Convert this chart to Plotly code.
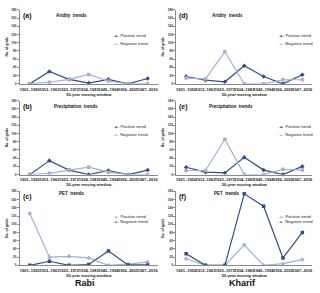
import plotly.graph_objects as go

windows = ["1901–1950", "1912–1961", "1923–1972", "1934–1983", "1945–1994", "1956–2005", "1967–2016"]

aridity_rabi_pos = [0, 30, 11, 2, 11, 0, 13]
aridity_rabi_neg = [0, 4, 11, 23, 7, 0, 0]
precip_rabi_pos = [0, 34, 11, 0, 10, 0, 11]
precip_rabi_neg = [0, 3, 11, 18, 6, 0, 0]
pet_rabi_pos = [126, 20, 22, 18, 0, 3, 8]
pet_rabi_neg = [0, 10, 0, 2, 35, 1, 1]

aridity_kharif_pos = [18, 9, 5, 44, 18, 0, 22]
aridity_kharif_neg = [14, 12, 78, 0, 0, 10, 10]
precip_kharif_pos = [18, 6, 4, 42, 11, 0, 20]
precip_kharif_neg = [10, 10, 86, 0, 0, 13, 11]
pet_kharif_pos = [16, 0, 0, 50, 0, 4, 14]
pet_kharif_neg = [28, 0, 0, 174, 144, 18, 80]

y_ticks = [0, 20, 40, 60, 80, 100, 120, 140, 160, 180]

DARK = "#2F4F86"
LIGHT = "#9DB3D8"
LAV = "#B7A8CC"
FONT = "Liberation Sans, Arial, sans-serif"

W, H = 320, 293

def px(x):
    return x / W

def py(y):
    return 1 - y / H

cols = [(20, 158), (177, 313)]
rows = [(8, 83), (100, 175), (192, 267)]

panels = [
    (0, 0, "(a)", "Aridity  trends", aridity_rabi_pos, aridity_rabi_neg, False),
    (1, 0, "(b)", "Precipitation  trends", precip_rabi_pos, precip_rabi_neg, False),
    (2, 0, "(c)", "PET  trends", pet_rabi_pos, pet_rabi_neg, True),
    (0, 1, "(d)", "Aridity  trends", aridity_kharif_pos, aridity_kharif_neg, False),
    (1, 1, "(e)", "Precipitation  trends", precip_kharif_pos, precip_kharif_neg, False),
    (2, 1, "(f)", "PET  trends", pet_kharif_pos, pet_kharif_neg, True),
]

fig = go.Figure()
annotations = []
layout = {}

for i, (r, c, lab, title, pos, neg, pet) in enumerate(panels):
    n = "" if i == 0 else str(i + 1)
    xa, ya = "x" + n, "y" + n
    x0, x1 = cols[c]
    y0, y1 = rows[r]
    if pet:
        pos_color, pos_mcolor = LIGHT, LIGHT
        neg_color, neg_mcolor = DARK, DARK
    else:
        pos_color, pos_mcolor = DARK, DARK
        neg_color, neg_mcolor = LIGHT, LAV
    fig.add_trace(go.Scatter(x=windows, y=pos, mode="lines+markers", xaxis=xa, yaxis=ya,
                             line=dict(color=pos_color, width=1.2),
                             marker=dict(symbol="diamond", size=3.5, color=pos_mcolor),
                             showlegend=False, name="Positive trend"))
    fig.add_trace(go.Scatter(x=windows, y=neg, mode="lines+markers", xaxis=xa, yaxis=ya,
                             line=dict(color=neg_color, width=1.2),
                             marker=dict(symbol="square", size=3.5, color=neg_mcolor),
                             showlegend=False, name="Negative trend"))
    layout["xaxis" + n] = dict(domain=[px(x0), px(x1)], anchor=ya, type="category",
                               range=[-0.5, 6.5], showline=True, linecolor="#8a8a8a", linewidth=1,
                               ticks="", showgrid=False, zeroline=False,
                               tickfont=dict(size=4, family=FONT, color="#222", weight="bold"),
                               tickangle=0, ticklabelstandoff=1,
                               title=dict(text="50-year moving window", standoff=1,
                                          font=dict(size=4, family=FONT, color="#222", weight="bold")))
    layout["yaxis" + n] = dict(domain=[py(y1), py(y0)], anchor=xa, range=[0, 180],
                               tickvals=y_ticks, showline=True, linecolor="#8a8a8a", linewidth=1,
                               ticks="outside", ticklen=2, tickcolor="#8a8a8a", showgrid=False,
                               zeroline=False,
                               tickfont=dict(size=3, family=FONT, color="#222", weight="bold"),
                               title=dict(text="No. of grids", standoff=3,
                                          font=dict(size=3.5, family=FONT, color="#222", weight="bold")))
    annotations.append(dict(text=lab, x=px(x0 + 1), y=py(y0 + 6), xref="paper", yref="paper",
                            xanchor="left", yanchor="middle", showarrow=False,
                            font=dict(size=7, family=FONT, color="#111", weight="bold")))
    tcx = x0 + (52 if c == 0 else 51) + (4 if "Precip" in title else 0)
    ty = y0 + 6 if not pet else y0 + 2
    annotations.append(dict(text=title, x=px(tcx), y=py(ty), xref="paper", yref="paper",
                            xanchor="center", yanchor="middle", showarrow=False,
                            font=dict(size=4.5, family=FONT, color="#111", weight="bold")))
    lx = x0 + 90 if c == 0 else x0 + 99
    ly1 = y0 + 26 if not pet else y0 + 25
    ly2 = ly1 + 8 if not pet else ly1 + 6
    annotations.append(dict(text=f'<span style="color:{pos_color};font-size:3px">─◆─</span> Positive trend',
                            x=px(lx), y=py(ly1), xref="paper", yref="paper",
                            xanchor="left", yanchor="middle", showarrow=False,
                            font=dict(size=4.2, family=FONT, color="#222")))
    annotations.append(dict(text=f'<span style="color:{neg_color};font-size:3px">─■─</span> Negative trend',
                            x=px(lx), y=py(ly2), xref="paper", yref="paper",
                            xanchor="left", yanchor="middle", showarrow=False,
                            font=dict(size=4.2, family=FONT, color="#222")))

annotations.append(dict(text="Rabi", x=px(85), y=py(285), xref="paper", yref="paper",
                        xanchor="center", yanchor="middle", showarrow=False,
                        font=dict(size=9, family=FONT, color="#111", weight="bold")))
annotations.append(dict(text="Kharif", x=px(243), y=py(285), xref="paper", yref="paper",
                        xanchor="center", yanchor="middle", showarrow=False,
                        font=dict(size=9, family=FONT, color="#111", weight="bold")))

fig.update_layout(width=W, height=H, autosize=False,
                  margin=dict(l=0, r=0, t=0, b=0),
                  paper_bgcolor="white", plot_bgcolor="white",
                  annotations=annotations, showlegend=False, **layout)

fig.write_html("out.html", config={"displayModeBar": False},
               post_script="document.body.style.margin='0';document.body.style.overflow='hidden';")
